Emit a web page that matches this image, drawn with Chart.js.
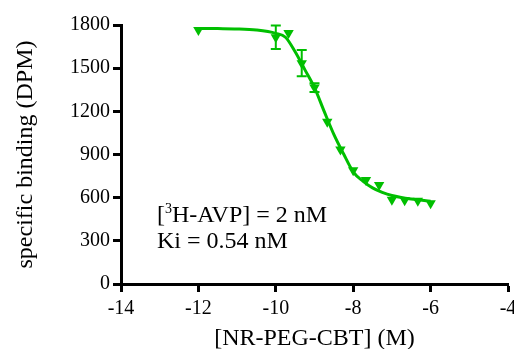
<!DOCTYPE html>
<html>
<head>
<meta charset="utf-8">
<script src="https://cdn.jsdelivr.net/npm/chart.js@4"></script>
<style>
  body { margin: 0; background: #fff; }
  canvas { display: block; }
</style>
</head>
<body>
<canvas id="myChart" width="514" height="349"></canvas>
<script>
// measured points (log M) with SEM
const logConc = [-12, -10, -9.67, -9.33, -9, -8.67, -8.33, -8, -7.67, -7.33, -7, -6.67, -6.33, -6];
const binding = [1765, 1715, 1745, 1535, 1365, 1128, 935, 790, 723, 688, 585, 582, 578, 562];
const sem = [0, 82, 0, 92, 30, 0, 0, 0, 0, 0, 0, 0, 0, 0];

// fitted curve
const fitX = [-12, -11.5, -11, -10.5, -10, -9.75, -9.5, -9.25, -9, -8.75, -8.5, -8.25, -8, -7.75, -7.5, -7.25, -7, -6.5, -6];
const fitY = [1776, 1775, 1773, 1765, 1742, 1715, 1614, 1490, 1365, 1200, 1040, 905, 780, 715, 668, 637, 615, 590, 575];

const xTicks = [-14, -12, -10, -8, -6, -4];
const yTicks = [0, 300, 600, 900, 1200, 1500, 1800];

const green = '#00bf00';
const serif = '"Liberation Serif", "Times New Roman", serif';
Chart.defaults.font.family = serif;

const errorBars = {
  id: 'errorBars',
  afterDatasetsDraw(chart) {
    const { ctx, scales: { x, y } } = chart;
    ctx.save();
    ctx.strokeStyle = green;
    ctx.lineWidth = 2;
    logConc.forEach((c, i) => {
      if (!sem[i]) return;
      const px = x.getPixelForValue(c);
      const top = y.getPixelForValue(binding[i] + sem[i]);
      const bot = y.getPixelForValue(binding[i] - sem[i]);
      ctx.beginPath();
      ctx.moveTo(px, top); ctx.lineTo(px, bot);
      ctx.moveTo(px - 5, top); ctx.lineTo(px + 5, top);
      ctx.moveTo(px - 5, bot); ctx.lineTo(px + 5, bot);
      ctx.stroke();
    });
    ctx.restore();
  }
};

const notes = {
  id: 'notes',
  afterDraw(chart) {
    const { ctx, scales: { x, y } } = chart;
    ctx.save();
    ctx.fillStyle = '#000';
    ctx.textBaseline = 'alphabetic';
    const size = 24;
    const left = x.getPixelForValue(-13.07);
    let px = left;
    const py = y.getPixelForValue(431);
    ctx.font = size + 'px ' + serif;
    ctx.fillText('[', px, py);
    px += ctx.measureText('[').width;
    ctx.font = Math.round(size * 0.6) + 'px ' + serif;
    ctx.fillText('3', px, py - size * 0.38);
    px += ctx.measureText('3').width;
    ctx.font = size + 'px ' + serif;
    ctx.fillText('H-AVP] = 2 nM', px, py);
    ctx.fillText('Ki = 0.54 nM', left, y.getPixelForValue(250));
    ctx.restore();
  }
};

new Chart(document.getElementById('myChart'), {
  type: 'scatter',
  data: {
    datasets: [
      {
        label: 'fit',
        type: 'line',
        data: fitX.map((v, i) => ({ x: v, y: fitY[i] })),
        borderColor: green,
        borderWidth: 3,
        pointRadius: 0,
        cubicInterpolationMode: 'monotone',
        fill: false
      },
      {
        label: 'data',
        data: logConc.map((v, i) => ({ x: v, y: binding[i] })),
        pointStyle: 'triangle',
        rotation: 180,
        pointRadius: 6,
        backgroundColor: green,
        borderColor: green,
        borderWidth: 0
      }
    ]
  },
  options: {
    responsive: false,
    animation: false,
    layout: { padding: { top: 25, right: 3, left: 0, bottom: 0 } },
    plugins: { legend: { display: false }, tooltip: { enabled: false } },
    scales: {
      x: {
        type: 'linear',
        min: -14,
        max: -4,
        afterBuildTicks(s) { s.ticks = xTicks.map(v => ({ value: v })); },
        afterFit(s) { s.height = 65; s.paddingRight = 0; s.paddingLeft = 0; },
        grid: { drawOnChartArea: false, tickLength: 8, tickWidth: 3, color: '#000' },
        border: { color: '#000', width: 3 },
        ticks: { color: '#000', padding: 5, font: { family: serif, size: 20 }, callback: v => String(v) },
        title: { display: true, text: '[NR-PEG-CBT] (M)', color: '#000', padding: { top: 0, bottom: -4 }, font: { family: serif, size: 24 } }
      },
      y: {
        min: 0,
        max: 1800,
        afterBuildTicks(s) { s.ticks = yTicks.map(v => ({ value: v })); },
        afterFit(s) { s.width = 121; },
        grid: { drawOnChartArea: false, tickLength: 8, tickWidth: 3, color: '#000' },
        border: { color: '#000', width: 3 },
        ticks: { color: '#000', padding: 3, font: { family: serif, size: 20 }, callback: v => String(v) },
        title: { display: true, text: 'specific binding (DPM)', color: '#000', padding: { top: 11, bottom: 0 }, font: { family: serif, size: 24 } }
      }
    }
  },
  plugins: [errorBars, notes]
});
</script>
</body>
</html>
